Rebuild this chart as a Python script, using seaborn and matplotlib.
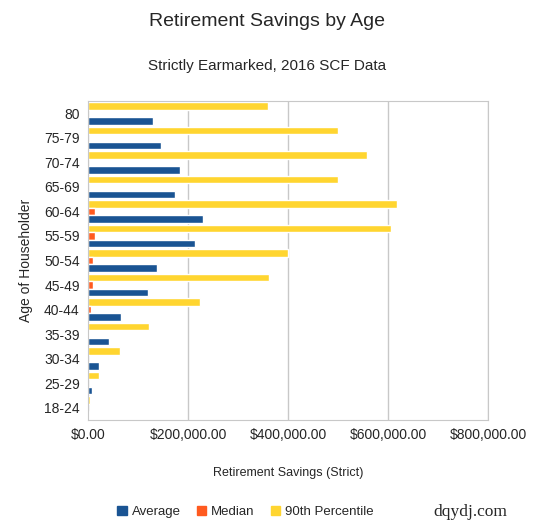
import matplotlib
matplotlib.use("Agg")
import matplotlib.pyplot as plt
import seaborn as sns
import pandas as pd
from matplotlib.patches import Patch
from matplotlib.ticker import FuncFormatter

ages = ["80", "75-79", "70-74", "65-69", "60-64", "55-59", "50-54", "45-49",
        "40-44", "35-39", "30-34", "25-29", "18-24"]
average = [130000, 145000, 184000, 173000, 229000, 213000, 137000, 119000, 67000, 43000, 23000, 7300, 2000]
median = [0, 0, 0, 0, 14700, 14000, 10000, 10700, 6700, 2000, 700, 300, 100]
p90 = [359000, 499000, 557000, 499000, 617000, 605000, 400000, 362000, 224000, 122000, 64000, 22700, 4000]

series = ["Average", "Median", "90th Percentile"]
colors = {"Average": "#1a5493", "Median": "#ff5a1f", "90th Percentile": "#ffd530"}

rows = []
for i, a in enumerate(ages):
    rows.append((a, "Average", average[i]))
    rows.append((a, "Median", median[i]))
    rows.append((a, "90th Percentile", p90[i]))
df = pd.DataFrame(rows, columns=["age", "series", "value"])

sns.set_style("white")
plt.rcParams['font.family'] = ['Liberation Sans', 'DejaVu Sans']
fig = plt.figure(figsize=(5.34, 5.26), dpi=100)
ax = fig.add_axes([88/534, 1 - 420/526, 400/534, 319/526])
sns.barplot(data=df, y="age", x="value", hue="series", order=ages,
            hue_order=["90th Percentile", "Median", "Average"], palette=colors,
            orient="h", width=0.92, gap=0.0, ax=ax, legend=False, saturation=1)
ax.set_xlim(0, 800000)
ax.set_xticks([0, 200000, 400000, 600000, 800000])
ax.xaxis.set_major_formatter(FuncFormatter(lambda v, p: f"${v:,.2f}"))
ax.grid(axis="x", color="#c8c8c8", lw=1)
ax.set_axisbelow(True)
for s in ax.spines.values():
    s.set_color("#c8c8c8")
ax.tick_params(axis="both", labelsize=10, length=0, pad=6)
ax.set_xlabel("Retirement Savings (Strict)", fontsize=9, labelpad=18)
ax.set_ylabel("Age of Householder", fontsize=10, labelpad=8)
fig.text(0.5, 1 - 22/526, "Retirement Savings by Age", ha="center", va="center", fontsize=14)
fig.text(0.5, 1 - 66/526, "Strictly Earmarked, 2016 SCF Data", ha="center", va="center", fontsize=11)
handles = [Patch(color=colors[s]) for s in series]
fig.legend(handles, series, loc="center", bbox_to_anchor=(0.46, 1 - 512/526), ncol=3,
           frameon=False, fontsize=9.5, handlelength=0.7, handleheight=0.7, columnspacing=1.2, handletextpad=0.4)
fig.text(0.88, 1 - 512/526, "dqydj.com", ha="center", va="center", fontsize=12.5, family=["Liberation Serif"])
fig.savefig("out.png", dpi=100)
